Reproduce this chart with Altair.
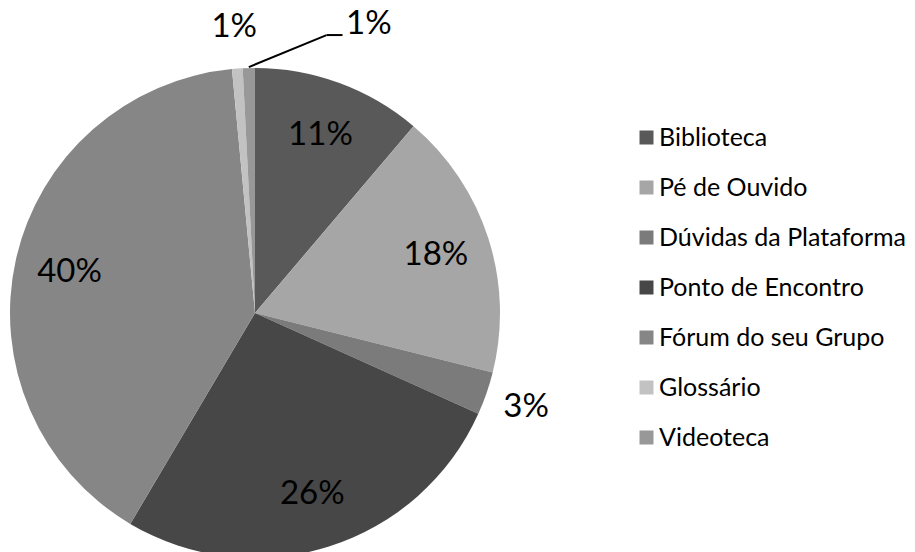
import altair as alt
import pandas as pd

categories = ["Biblioteca", "Pé de Ouvido", "Dúvidas da Plataforma", "Ponto de Encontro",
              "Fórum do seu Grupo", "Glossário", "Videoteca"]
values = [11.2, 17.7, 2.85, 26.75, 40.0, 0.7, 0.8]
labels = ["11%", "18%", "3%", "26%", "40%", "1%", "1%"]
colors = ["#595959", "#a6a6a6", "#7b7b7b", "#474747", "#868686", "#c2c2c2", "#989898"]

df = pd.DataFrame({"category": categories, "value": values, "label": labels,
                   "idx": list(range(len(categories)))})

CX, CY, R = 255, 313, 245
FONT = "Lato"

base = (
    alt.Chart(df)
    .transform_window(cum="sum(value)", sort=[alt.SortField("idx")], frame=[None, 0])
    .transform_joinaggregate(total="sum(value)")
    .transform_calculate(
        start="2*PI*(datum.cum-datum.value)/datum.total",
        end="2*PI*datum.cum/datum.total",
        mid="2*PI*(datum.cum-datum.value/2)/datum.total",
    )
)

arcs = base.mark_arc(radius=R).encode(
    theta=alt.Theta("start:Q", scale=None),
    theta2="end:Q",
    x=alt.value(CX),
    y=alt.value(CY),
    color=alt.Color(
        "category:N",
        scale=alt.Scale(domain=categories, range=colors),
        sort=categories,
        legend=alt.Legend(
            title=None, orient="none", legendX=634, legendY=125,
            symbolType="square", symbolSize=196, symbolStrokeWidth=0,
            labelFontSize=25, labelFont=FONT, labelColor="#000000",
            labelOffset=0, rowPadding=24, padding=0, labelLimit=0,
        ),
    ),
)

text_kw = dict(fontSize=33, font=FONT, color="#000000", align="center", baseline="middle")

inside = base.transform_filter("datum.value >= 5").mark_text(radius=190, **text_kw).encode(
    theta=alt.Theta("mid:Q", scale=None), x=alt.value(CX), y=alt.value(CY), text="label:N")

outside = base.transform_filter("datum.value < 5 && datum.category != 'Videoteca'").mark_text(
    radius=287, **text_kw).encode(
    theta=alt.Theta("mid:Q", scale=None), x=alt.value(CX), y=alt.value(CY), text="label:N")

video = base.transform_filter("datum.category == 'Videoteca'").transform_calculate(
    lt="datum.mid + 0.40").mark_text(radius=311, **text_kw).encode(
    theta=alt.Theta("lt:Q", scale=None), x=alt.value(CX), y=alt.value(CY), text="label:N")

leader_base = base.transform_filter("datum.category == 'Videoteca'").transform_calculate(
    p1x=f"{CX} + 246*sin(datum.mid)", p1y=f"{CY} - 246*cos(datum.mid)",
    p2x=f"{CX} + 287*sin(datum.mid + 0.277)", p2y=f"{CY} - 287*cos(datum.mid + 0.277)",
).transform_calculate(p3x="datum.p2x + 16")

leader1 = leader_base.mark_rule(color="#000000", strokeWidth=2).encode(
    x=alt.X("p1x:Q", scale=None), y=alt.Y("p1y:Q", scale=None),
    x2="p2x:Q", y2="p2y:Q")
leader2 = leader_base.mark_rule(color="#000000", strokeWidth=2).encode(
    x=alt.X("p2x:Q", scale=None), y=alt.Y("p2y:Q", scale=None),
    x2="p3x:Q", y2="p2y:Q")

chart = (
    alt.layer(arcs, inside, outside, video, leader1, leader2)
    .properties(width=915, height=552, autosize=alt.AutoSizeParams(type="none"), padding=0,
                background="#ffffff")
    .configure_view(stroke=None)
)

chart.save("out.html", embed_options={"renderer": "svg", "actions": False})
